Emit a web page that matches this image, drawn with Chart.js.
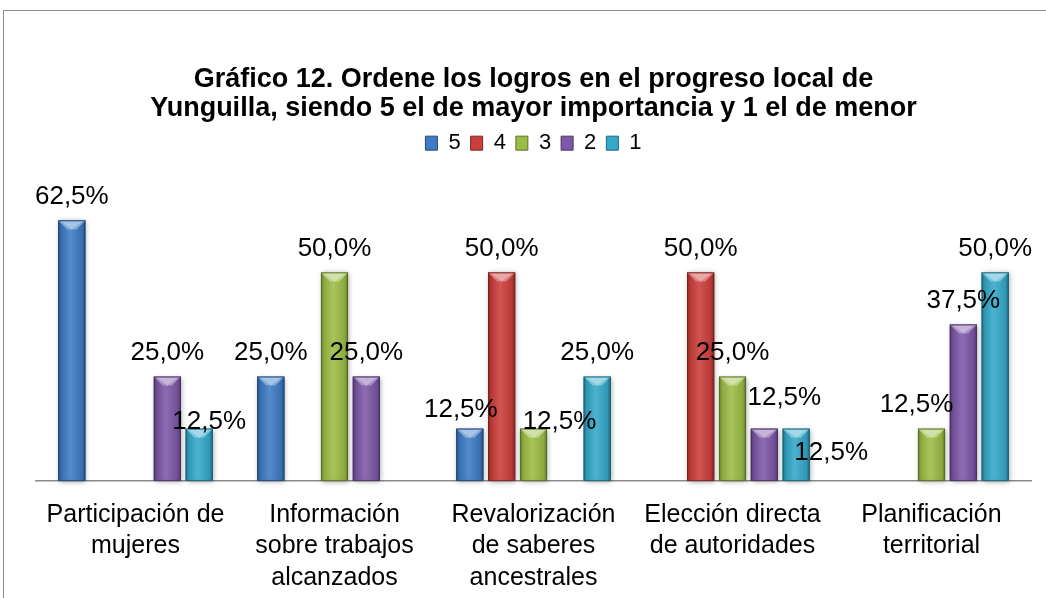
<!DOCTYPE html>
<html>
<head>
<meta charset="utf-8">
<script src="https://cdn.jsdelivr.net/npm/chart.js@4.4.0/dist/chart.umd.min.js"></script>
<style>
    html, body { margin: 0; padding: 0; background: #fff; overflow: hidden; }
    canvas { display: block; }
</style>
</head>
<body>
<canvas id="logrosChart" width="1046" height="612"></canvas>
<script>
// Chart data
const categories = [
    ['Participación de', 'mujeres'],
    ['Información', 'sobre trabajos', 'alcanzados'],
    ['Revalorización', 'de saberes', 'ancestrales'],
    ['Elección directa', 'de autoridades'],
    ['Planificación', 'territorial']
];
const seriesNames = ['5', '4', '3', '2', '1'];
const rank5 = [62.5, 25.0, 12.5, 0, 0];
const rank4 = [0, 0, 50.0, 50.0, 0];
const rank3 = [0, 50.0, 12.5, 25.0, 12.5];
const rank2 = [25.0, 25.0, 0, 12.5, 37.5];
const rank1 = [12.5, 0, 25.0, 12.5, 50.0];

const seriesColors = ['#3D7BC4', '#CC3E3B', '#9CBD45', '#7D58A8', '#34A9C9'];

// Manual label nudges (Excel moved a few labels around), key: "category-series"
const labelNudge = {
    '0-4': [10, 17],
    '2-0': [-9, 5],
    '2-2': [26, 17],
    '3-3': [20, -7],
    '3-4': [35, 48],
    '4-2': [-15, 0]
};

const FONT = '"Liberation Sans", Arial, sans-serif';

function shade(hex, amt) {
    const n = parseInt(hex.slice(1), 16);
    let r = (n >> 16) & 255, g = (n >> 8) & 255, b = n & 255;
    const f = c => Math.max(0, Math.min(255, Math.round(amt < 0 ? c * (1 + amt) : c + (255 - c) * amt)));
    return 'rgb(' + f(r) + ',' + f(g) + ',' + f(b) + ')';
}

function formatPct(v) {
    return v.toFixed(1).replace('.', ',') + '%';
}

// Frame + white background
const framePlugin = {
    id: 'frame',
    beforeDraw(chart) {
        const ctx = chart.ctx;
        ctx.save();
        ctx.fillStyle = '#fff';
        ctx.fillRect(0, 0, chart.width, chart.height);
        ctx.strokeStyle = '#8c8c8c';
        ctx.lineWidth = 1;
        ctx.strokeRect(3.5, 10.5, 1200, 800);
        ctx.restore();
    }
};

// Bevelled bars and value labels
const bevelPlugin = {
    id: 'bevelBars',
    afterDatasetsDraw(chart) {
        const ctx = chart.ctx;
        ctx.save();
        chart.data.datasets.forEach((ds, di) => {
            const meta = chart.getDatasetMeta(di);
            const base = seriesColors[di];
            meta.data.forEach((el, i) => {
                if (!ds.data[i]) return;
                const x0 = el.x - el.width / 2, x1 = el.x + el.width / 2;
                const top = el.y, bottom = el.base;
                // shadow
                ctx.save();
                ctx.shadowColor = 'rgba(0,0,0,0.35)';
                ctx.shadowBlur = 5;
                ctx.shadowOffsetX = 1;
                ctx.shadowOffsetY = 1;
                ctx.fillStyle = base;
                ctx.fillRect(x0, top, x1 - x0, bottom - top);
                ctx.restore();
                // body gradient
                const g = ctx.createLinearGradient(x0, 0, x1, 0);
                g.addColorStop(0, shade(base, -0.35));
                g.addColorStop(0.12, shade(base, -0.1));
                g.addColorStop(0.45, shade(base, 0.12));
                g.addColorStop(0.88, shade(base, -0.1));
                g.addColorStop(1, shade(base, -0.4));
                ctx.fillStyle = g;
                ctx.fillRect(x0, top, x1 - x0, bottom - top);
                // top bevel
                const bh = Math.min(9, (bottom - top) / 2);
                ctx.fillStyle = shade(base, 0.35);
                ctx.beginPath();
                ctx.moveTo(x0, top);
                ctx.lineTo(x1, top);
                ctx.lineTo(x1 - bh, top + bh);
                ctx.lineTo(x0 + bh, top + bh);
                ctx.closePath();
                ctx.fill();
                ctx.fillStyle = shade(base, 0.55);
                ctx.beginPath();
                ctx.moveTo(x0 + 3, top + 1);
                ctx.lineTo(x1 - 3, top + 1);
                ctx.lineTo(el.x, top + bh);
                ctx.closePath();
                ctx.fill();
                // outline
                ctx.strokeStyle = shade(base, -0.45);
                ctx.lineWidth = 0.8;
                ctx.strokeRect(x0 + 0.4, top + 0.4, x1 - x0 - 0.8, bottom - top - 0.8);
            });
        });
        // value labels
        ctx.fillStyle = '#000';
        ctx.font = '26px ' + FONT;
        ctx.textAlign = 'center';
        ctx.textBaseline = 'middle';
        chart.data.datasets.forEach((ds, di) => {
            const meta = chart.getDatasetMeta(di);
            meta.data.forEach((el, i) => {
                const v = ds.data[i];
                if (!v) return;
                const n = labelNudge[i + '-' + di] || [0, 0];
                ctx.fillText(formatPct(v), el.x + n[0], el.y - 24 + n[1]);
            });
        });
        ctx.restore();
    }
};

const allSeries = [rank5, rank4, rank3, rank2, rank1];

new Chart(document.getElementById('logrosChart').getContext('2d'), {
    type: 'bar',
    data: {
        labels: categories,
        datasets: allSeries.map((values, k) => ({
            label: seriesNames[k],
            data: values,
            backgroundColor: 'rgba(0,0,0,0)',
            borderWidth: 0,
            categoryPercentage: 0.8,
            barPercentage: 0.85
        }))
    },
    options: {
        responsive: false,
        animation: false,
        layout: {
            padding: { left: 36, right: 15, top: 66, bottom: 0 }
        },
        plugins: {
            title: {
                display: true,
                text: ['Gráfico 12. Ordene los logros en el progreso local de',
                       'Yunguilla, siendo 5 el de mayor importancia y 1 el de menor'],
                color: '#000',
                font: { family: FONT, size: 27, weight: 'bold', lineHeight: 1.04 },
                padding: { top: 0, bottom: 0 }
            },
            legend: {
                position: 'top',
                labels: {
                    color: '#000',
                    boxWidth: 12,
                    boxHeight: 14,
                    padding: 10,
                    font: { family: FONT, size: 22 },
                    generateLabels(chart) {
                        return seriesNames.map((name, k) => ({
                            text: name,
                            fillStyle: seriesColors[k],
                            strokeStyle: shade(seriesColors[k], -0.4),
                            lineWidth: 1,
                            datasetIndex: k
                        }));
                    }
                }
            },
            tooltip: { enabled: false }
        },
        scales: {
            x: {
                grid: { display: false, drawTicks: false },
                border: { color: '#8a8a8a', width: 1.5 },
                ticks: {
                    color: '#000',
                    maxRotation: 0,
                    autoSkip: false,
                    padding: 18,
                    font: { family: FONT, size: 25, lineHeight: 1.27 }
                }
            },
            y: {
                display: false,
                min: 0,
                max: 76.0
            }
        }
    },
    plugins: [framePlugin, bevelPlugin]
});
</script>
</body>
</html>
